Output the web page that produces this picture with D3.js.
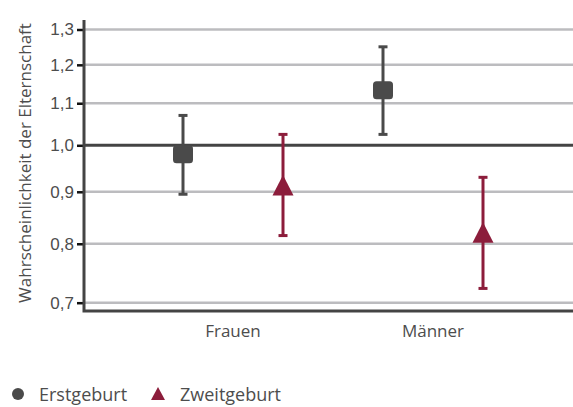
<!DOCTYPE html>
<html lang="de">
<head>
  <meta charset="UTF-8">
  <title>Wahrscheinlichkeit der Elternschaft</title>
  <script src="https://cdn.jsdelivr.net/npm/d3@7"></script>
  <style>
    body { margin: 0; background: #fff; }
    svg { display: block; font-family: "Open Sans", sans-serif; }
  </style>
</head>
<body>
  <div id="chart"></div>
  <script>
    const groups = ['Frauen', 'Männer']
    const seriesNames = ['Erstgeburt', 'Zweitgeburt']
    const erstValue = [0.98, 1.133]
    const erstLow = [0.895, 1.025]
    const erstHigh = [1.07, 1.25]
    const zweitValue = [0.913, 0.82]
    const zweitLow = [0.815, 0.723]
    const zweitHigh = [1.025, 0.93]
    const yTicks = [0.7, 0.8, 0.9, 1.0, 1.1, 1.2, 1.3]

    const width = 573
    const height = 407
    const colors = { Erstgeburt: '#4a4a4a', Zweitgeburt: '#8c1d3b' }
    const textColor = '#4d4d4d'

    const svg = d3.select('#chart').append('svg')
      .attr('width', width)
      .attr('height', height)

    const plotLeft = 84, plotRight = 573, plotTop = 20, plotBottom = 311

    const y = d3.scaleLog()
      .domain([0.7, 1.3])
      .range([302.7, 29.5])

    const x = d3.scaleBand()
      .domain(groups)
      .range([133, 533])

    const xInner = d3.scaleBand()
      .domain(seriesNames)
      .range([0, x.bandwidth()])

    // grid lines
    svg.append('g')
      .selectAll('line')
      .data(yTicks)
      .join('line')
      .attr('x1', plotLeft)
      .attr('x2', plotRight)
      .attr('y1', d => y(d))
      .attr('y2', d => y(d))
      .attr('stroke', d => d === 1 ? '#444' : '#bcbcbf')
      .attr('stroke-width', d => d === 1 ? 3 : 2.5)

    // y axis
    const yAxis = d3.axisLeft(y)
      .tickValues(yTicks)
      .tickSize(7)
      .tickPadding(3)
      .tickFormat(d => d3.format('.1f')(d).replace('.', ','))

    const gy = svg.append('g')
      .attr('transform', `translate(${plotLeft},0)`)
      .call(yAxis)
    gy.select('.domain').remove()
    gy.selectAll('.tick line').attr('stroke', '#111').attr('stroke-width', 2.5)
    gy.selectAll('.tick text')
      .attr('fill', textColor)
      .style('font-size', '17px')

    // axis frame
    svg.append('path')
      .attr('d', `M${plotLeft},${plotTop}V${plotBottom}H${plotRight}`)
      .attr('fill', 'none')
      .attr('stroke', '#444')
      .attr('stroke-width', 3)

    // x labels
    svg.append('g')
      .selectAll('text')
      .data(groups)
      .join('text')
      .attr('x', d => x(d) + x.bandwidth() / 2)
      .attr('y', 337)
      .attr('text-anchor', 'middle')
      .attr('fill', textColor)
      .style('font-size', '17px')
      .text(d => d)

    // y title
    svg.append('text')
      .attr('transform', 'translate(31,163) rotate(-90)')
      .attr('text-anchor', 'middle')
      .attr('fill', textColor)
      .style('font-size', '17px')
      .text('Wahrscheinlichkeit der Elternschaft')

    const points = []
    groups.forEach((g, i) => {
      points.push({ group: g, series: 'Erstgeburt', v: erstValue[i], lo: erstLow[i], hi: erstHigh[i] })
      points.push({ group: g, series: 'Zweitgeburt', v: zweitValue[i], lo: zweitLow[i], hi: zweitHigh[i] })
    })
    const px = d => x(d.group) + xInner(d.series) + xInner.bandwidth() / 2

    const marks = svg.append('g')
      .selectAll('g')
      .data(points)
      .join('g')
      .attr('fill', d => colors[d.series])
      .attr('stroke', d => colors[d.series])

    marks.append('line')
      .attr('x1', px).attr('x2', px)
      .attr('y1', d => y(d.lo)).attr('y2', d => y(d.hi))
      .attr('stroke-width', 3)
    marks.append('line')
      .attr('x1', d => px(d) - 4.5).attr('x2', d => px(d) + 4.5)
      .attr('y1', d => y(d.hi)).attr('y2', d => y(d.hi))
      .attr('stroke-width', 3)
    marks.append('line')
      .attr('x1', d => px(d) - 4.5).attr('x2', d => px(d) + 4.5)
      .attr('y1', d => y(d.lo)).attr('y2', d => y(d.lo))
      .attr('stroke-width', 3)

    marks.filter(d => d.series === 'Erstgeburt')
      .append('rect')
      .attr('x', d => px(d) - 10)
      .attr('y', d => y(d.v) - 9)
      .attr('width', 20)
      .attr('height', 18)
      .attr('rx', 3.5)
      .attr('stroke', 'none')

    marks.filter(d => d.series === 'Zweitgeburt')
      .append('path')
      .attr('d', d => `M${px(d)},${y(d.v) - 10.5}L${px(d) + 10.5},${y(d.v) + 10}L${px(d) - 10.5},${y(d.v) + 10}Z`)
      .attr('stroke', 'none')

    // legend
    const legend = svg.append('g')
    legend.append('circle')
      .attr('cx', 18).attr('cy', 394).attr('r', 6)
      .attr('fill', colors.Erstgeburt)
    legend.append('text')
      .attr('x', 39).attr('y', 401)
      .attr('fill', textColor)
      .style('font-size', '18px')
      .text(seriesNames[0])
    legend.append('path')
      .attr('d', 'M158,387L165,400L151,400Z')
      .attr('fill', colors.Zweitgeburt)
    legend.append('text')
      .attr('x', 180).attr('y', 401)
      .attr('fill', textColor)
      .style('font-size', '18px')
      .text(seriesNames[1])
  </script>
</body>
</html>
